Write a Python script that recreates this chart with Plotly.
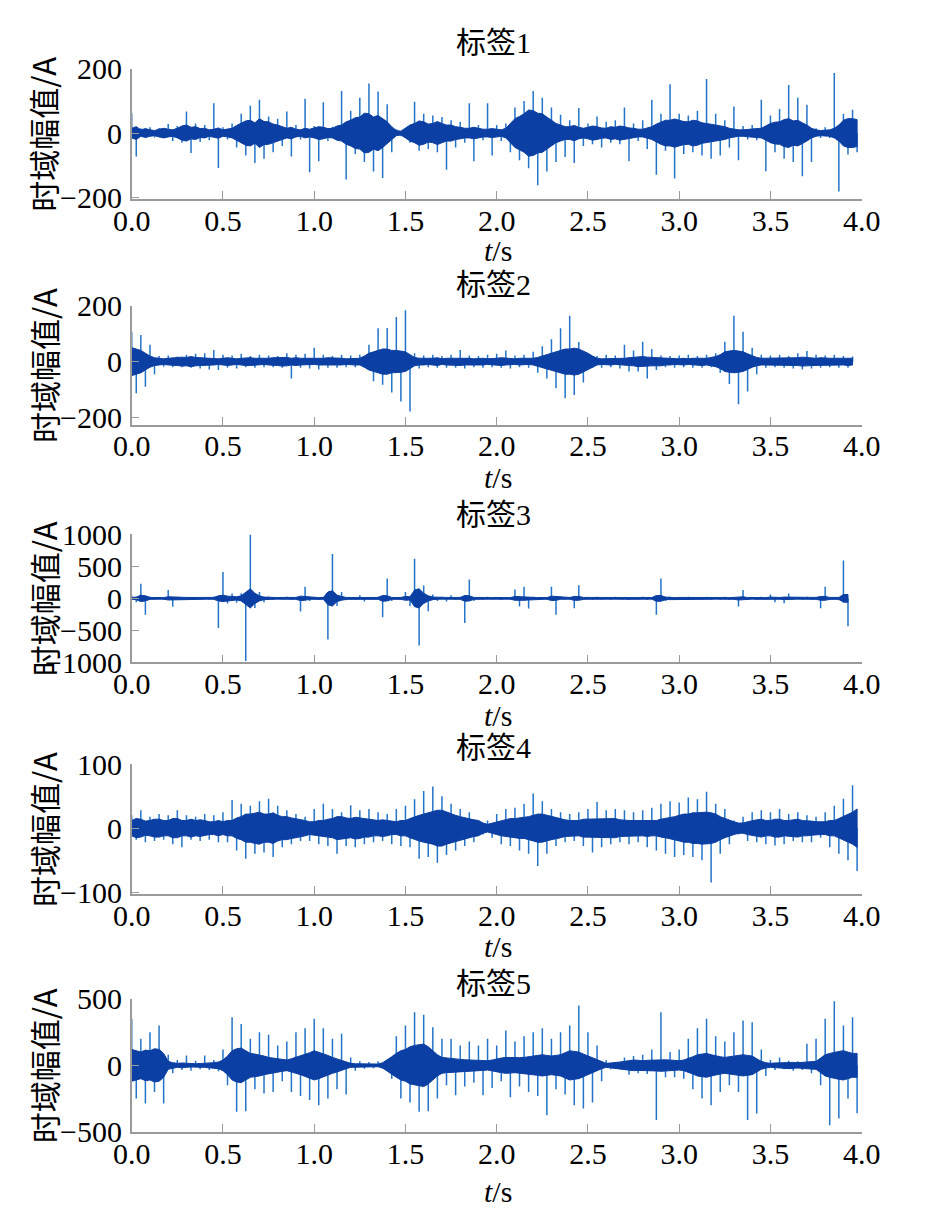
import numpy as np
import plotly.graph_objects as go

W, H = 935, 1218
DT = 0.025        # spacing of the read-off samples (s)

titles = ["标签1", "标签2", "标签3", "标签4", "标签5"]
x_ticks = [0.0, 0.5, 1.0, 1.5, 2.0, 2.5, 3.0, 3.5, 4.0]
y_ticks = [
    [-200, 0, 200],
    [-200, 0, 200],
    [-1000, -500, 0, 500, 1000],
    [-100, 0, 100],
    [-500, 0, 500],
]
y_ranges = [[-205, 200], [-225, 200], [-1000, 1000], [-103, 100], [-500, 500]]

# peak samples, one every 0.025 s (10 per row = 0.25 s)
signal_1 = [
    62, -73, 15, -12, 18, -14, 16, -15, 28, -25,
    22, -30, 67, -62, 30, -28, 25, -22, 93, -109,
    18, -20, 30, -45, 60, -70, 85, -93, 104, -80,
    52, -60, 45, -40, 67, -73, 25, -20, 107, -122,
    22, -88, 96, -25, 20, -22, 131, -145, 70, -65,
    110, -90, 155, -120, 130, -140, 90, -60, 12, -10,
    15, -30, 98, -55, 60, -50, 55, -60, 50, -114,
    40, -45, 35, -30, 93, -88, 25, -22, 93, -70,
    25, -25, 30, -60, 80, -85, 100, -110, 131, -163,
    110, -120, 80, -90, 57, -75, 40, -93, 78, -40,
    30, -35, 52, -45, 35, -30, 40, -35, 80, -88,
    30, -25, 40, -50, 104, -130, 60, -55, 152, -142,
    60, -65, 55, -60, 70, -70, 169, -80, 60, -70,
    40, -45, 83, -85, 22, -20, 25, -22, 104, -119,
    55, -60, 75, -80, 150, -90, 110, -135, 88, -90,
    15, -15, 18, -15, 187, -182, 60, -67, 73, -60,
]
signal_2 = [
    107, -113, 95, -90, 60, -45, 20, -18, 22, -20,
    18, -20, 25, -22, 28, -25, 30, -28, 42, -30,
    25, -22, 22, -25, 28, -20, 20, -22, 25, -20,
    22, -20, 20, -22, 30, -60, 25, -22, 28, -25,
    50, -28, 25, -22, 20, -22, 25, -20, 22, -20,
    25, -22, 60, -70, 119, -83, 120, -110, 160, -143,
    184, -178, 30, -25, 22, -20, 25, -22, 20, -22,
    25, -22, 42, -25, 22, -20, 20, -22, 25, -20,
    28, -22, 40, -25, 22, -20, 25, -22, 35, -40,
    55, -60, 80, -95, 119, -131, 164, -119, 70, -75,
    25, -22, 20, -22, 25, -20, 22, -25, 60, -35,
    40, -35, 71, -60, 45, -30, 22, -20, 20, -22,
    22, -20, 25, -22, 20, -22, 25, -20, 30, -40,
    71, -80, 164, -152, 107, -107, 50, -45, 25, -22,
    22, -20, 25, -22, 20, -25, 30, -28, 38, -25,
    25, -22, 22, -20, 25, -22, 20, -22, 18,
]
signal_3 = [
    40, -60, 230, -258, 25, -20, 20, -25, 130, -130,
    20, -22, 18, -20, 22, -20, 20, -22, 25, -464,
    412, -80, 77, -70, 80, -980, 1000, -150, 100, -60,
    30, -25, 22, -20, 25, -22, 20, -206, 180, -40,
    22, -25, 20, -644, 695, -120, 100, -30, 22, -20,
    50, -50, 20, -22, 25, -294, 309, -40, 22, -20,
    100, -120, 618, -736, 200, -200, 60, -40, 25, -50,
    50, -22, 20, -386, 294, -40, 22, -20, 25, -22,
    20, -25, 22, -20, 139, -129, 180, -160, 25, -22,
    20, -22, 180, -258, 25, -20, 22, -155, 206, -22,
    22, -20, 25, -22, 20, -22, 25, -20, 22, -25,
    20, -22, 25, -20, 22, -258, 309, -40, 25, -22,
    20, -22, 25, -20, 22, -20, 25, -22, 20, -22,
    25, -20, 22, -129, 129, -22, 20, -22, 25, -20,
    60, -60, 22, -77, 77, -22, 20, -22, 25, -20,
    22, -155, 180, -22, 20, -30, 592, -438,
]
signal_4 = [
    20, -18, 28, -22, 18, -20, 22, -18, 20, -25,
    28, -30, 20, -18, 18, -20, 22, -18, 20, -22,
    25, -22, 44, -35, 38, -48, 35, -40, 42, -38,
    46, -45, 35, -30, 28, -25, 22, -20, 18, -20,
    30, -25, 38, -28, 30, -40, 25, -28, 36, -30,
    28, -25, 30, -22, 25, -20, 22, -25, 30, -28,
    35, -30, 45, -48, 58, -45, 65, -54, 50, -42,
    38, -35, 30, -28, 25, -22, 12, -10, 12, -15,
    22, -25, 30, -28, 32, -35, 38, -40, 54, -59,
    42, -40, 30, -28, 25, -22, 22, -20, 25, -28,
    30, -38, 41, -30, 28, -25, 30, -22, 28, -25,
    25, -22, 28, -30, 32, -35, 38, -40, 42, -45,
    40, -42, 48, -45, 45, -50, 57, -85, 38, -40,
    30, -25, 12, -10, 18, -20, 25, -22, 28, -25,
    25, -27, 30, -25, 22, -20, 25, -22, 20, -22,
    18, -15, 25, -30, 35, -40, 46, -50, 67, -67,
]
signal_5 = [
    350, -250, 200, -288, 250, -200, 300, -288, 80, -60,
    40, -35, 75, -40, 35, -30, 75, -35, 40, -45,
    120, -150, 363, -350, 312, -345, 200, -180, 250, -212,
    230, -200, 150, -120, 180, -200, 250, -230, 280, -260,
    350, -300, 280, -250, 200, -180, 237, -220, 60, -40,
    30, -25, 25, -22, 30, -25, 35, -100, 220, -250,
    300, -280, 400, -350, 380, -345, 287, -250, 200, -150,
    200, -225, 150, -160, 180, -130, 150, -225, 200, -170,
    150, -120, 262, -240, 180, -160, 220, -200, 250, -230,
    280, -375, 200, -180, 250, -220, 300, -300, 450, -325,
    250, -280, 150, -120, 40, -30, 25, -30, 60, -70,
    70, -60, 80, -65, 120, -412, 400, -90, 100, -90,
    120, -100, 200, -180, 280, -250, 350, -300, 220, -200,
    180, -150, 250, -200, 337, -412, 325, -362, 120, -80,
    40, -35, 60, -30, 35, -40, 30, -35, 162, -60,
    200, -150, 350, -450, 482, -400, 300, -250, 362, -360,
]

# half width of the dark dense core, same 0.025 s grid
core_1 = [
    15, 20, 10, 14, 10, 8, 12, 15, 12, 10,
    15, 22, 25, 18, 20, 14, 15, 10, 12, 16,
    10, 12, 15, 24, 30, 38, 40, 32, 45, 36,
    35, 28, 25, 20, 15, 18, 12, 10, 15, 12,
    15, 20, 18, 14, 15, 22, 25, 35, 40, 48,
    50, 62, 60, 50, 55, 45, 35, 20, 8, 6,
    15, 25, 30, 38, 35, 28, 30, 36, 30, 25,
    25, 20, 18, 15, 15, 18, 15, 12, 12, 14,
    12, 10, 15, 30, 45, 52, 60, 72, 70, 62,
    60, 50, 40, 30, 25, 20, 20, 24, 18, 15,
    18, 22, 20, 16, 15, 20, 18, 22, 20, 16,
    15, 12, 12, 16, 20, 28, 35, 40, 40, 44,
    40, 36, 35, 40, 38, 32, 30, 28, 25, 22,
    20, 15, 12, 10, 10, 12, 12, 14, 15, 22,
    30, 34, 35, 42, 45, 38, 40, 32, 25, 15,
    10, 8, 8, 10, 15, 25, 40, 45, 45, 42,
]
core_2 = [
    50, 45, 40, 30, 20, 14, 12, 10, 12, 14,
    14, 16, 15, 18, 15, 14, 14, 12, 12, 10,
    12, 14, 12, 10, 12, 14, 14, 12, 12, 10,
    12, 14, 14, 16, 15, 12, 14, 12, 12, 10,
    10, 12, 12, 14, 14, 12, 12, 10, 10, 12,
    12, 20, 30, 35, 40, 45, 45, 40, 40, 38,
    35, 25, 15, 12, 12, 10, 12, 14, 10, 12,
    12, 14, 14, 12, 12, 10, 12, 12, 10, 10,
    12, 14, 12, 10, 10, 12, 12, 10, 12, 15,
    20, 25, 30, 35, 40, 45, 45, 48, 45, 38,
    30, 20, 12, 10, 10, 12, 10, 12, 12, 14,
    15, 18, 18, 16, 15, 14, 15, 12, 12, 10,
    10, 12, 10, 12, 12, 14, 12, 15, 18, 25,
    35, 38, 40, 38, 35, 28, 20, 15, 12, 12,
    12, 14, 12, 12, 12, 14, 14, 16, 15, 14,
    12, 14, 12, 12, 12, 12, 12, 14, 12,
]
core_3 = [
    15, 20, 50, 40, 15, 12, 15, 12, 25, 20,
    15, 12, 15, 14, 12, 15, 14, 12, 15, 40,
    50, 35, 30, 25, 40, 100, 150, 80, 40, 20,
    15, 14, 12, 15, 14, 12, 15, 35, 30, 15,
    14, 12, 15, 100, 120, 50, 30, 15, 14, 12,
    20, 15, 12, 14, 15, 45, 40, 15, 12, 15,
    30, 25, 130, 150, 80, 40, 20, 15, 12, 15,
    14, 12, 15, 45, 40, 15, 12, 14, 15, 12,
    14, 12, 15, 12, 30, 25, 30, 25, 15, 12,
    14, 12, 35, 30, 15, 12, 14, 30, 30, 15,
    14, 12, 15, 14, 12, 15, 14, 12, 15, 12,
    14, 12, 15, 14, 12, 45, 45, 20, 14, 12,
    15, 14, 12, 15, 14, 12, 15, 14, 12, 15,
    14, 12, 15, 25, 25, 14, 12, 15, 14, 12,
    20, 15, 14, 20, 20, 14, 12, 15, 14, 12,
    15, 30, 30, 15, 14, 15, 60, 60,
]
core_4 = [
    12, 15, 14, 11, 12, 14, 14, 12, 12, 15,
    15, 12, 12, 14, 12, 13, 12, 10, 10, 12,
    10, 12, 12, 16, 18, 22, 22, 24, 25, 22,
    22, 24, 20, 18, 18, 16, 15, 14, 12, 10,
    10, 12, 12, 14, 15, 18, 18, 16, 15, 17,
    16, 14, 14, 12, 12, 13, 12, 10, 10, 12,
    12, 15, 18, 20, 22, 24, 25, 28, 28, 25,
    22, 20, 18, 16, 15, 13, 12, 8, 6, 8,
    10, 12, 14, 15, 15, 16, 16, 18, 20, 22,
    22, 20, 18, 16, 15, 13, 12, 12, 12, 14,
    14, 15, 15, 14, 14, 15, 15, 13, 12, 12,
    12, 12, 12, 13, 12, 12, 14, 15, 16, 18,
    20, 22, 22, 24, 24, 25, 25, 24, 22, 18,
    15, 12, 10, 8, 8, 10, 12, 13, 14, 12,
    12, 14, 14, 12, 12, 13, 14, 12, 12, 11,
    10, 10, 10, 12, 12, 15, 18, 22, 25, 30,
]
core_5 = [
    120, 110, 100, 115, 110, 125, 120, 90, 30, 20,
    15, 18, 15, 12, 12, 14, 15, 18, 20, 25,
    40, 70, 110, 125, 130, 110, 90, 85, 80, 70,
    60, 55, 50, 45, 40, 50, 60, 70, 80, 95,
    110, 100, 90, 75, 60, 50, 40, 25, 15, 12,
    12, 12, 12, 10, 10, 20, 40, 65, 90, 110,
    120, 140, 150, 155, 160, 140, 110, 80, 60, 55,
    50, 48, 45, 42, 40, 40, 40, 38, 35, 40,
    50, 55, 60, 58, 55, 58, 60, 65, 70, 75,
    80, 75, 70, 75, 80, 95, 110, 105, 100, 85,
    70, 55, 40, 25, 15, 18, 20, 25, 30, 35,
    40, 38, 35, 38, 40, 42, 45, 42, 40, 38,
    35, 40, 50, 65, 80, 85, 90, 80, 70, 65,
    60, 65, 70, 75, 80, 75, 70, 50, 30, 20,
    15, 18, 20, 22, 25, 22, 20, 22, 25, 28,
    30, 55, 80, 90, 100, 105, 110, 100, 90, 90,
]

signals = [signal_1, signal_2, signal_3, signal_4, signal_5]
cores = [core_1, core_2, core_3, core_4, core_5]

# pixel layout of the reference (top of axis, bottom axis line)
panel_px = [(69, 199), (306, 425), (535, 663), (765, 895), (1000, 1133)]
title_px = [43, 285, 515, 748, 985]
xlabel_px = [251, 478, 716, 948, 1193]
X0, X1 = 131, 863

# observed placement of the plotting area inside the photographed page
PX_L, PX_W = 26, 899.5
PX_T, PX_H = 25, 1186.3

SERIF = "Liberation Serif, 'Noto Sans CJK SC', serif"
CJK = "'Noto Sans CJK SC', sans-serif"
AXIS_GREY = "#9a9a9a"
SPIKE = "#2374c9"
CORE = "#0b3fa3"


def fx(px):
    return (px - PX_L) / PX_W


def fy(px):
    return 1 - (px - PX_T) / PX_H


fig = go.Figure()
layout = {}
annotations = []
for i, (sig, core) in enumerate(zip(signals, cores)):
    n = i + 1
    sig = np.array(sig, dtype=float)
    core = np.array(core, dtype=float)
    t = np.arange(len(sig)) * DT
    tc = np.arange(len(core)) * DT
    xa, ya = ("x", "y") if n == 1 else (f"x{n}", f"y{n}")

    # each peak drawn as a vertical stroke from zero
    sx = np.repeat(t, 3)
    sx[2::3] = np.nan
    sy = np.column_stack([np.zeros_like(sig), sig, np.full_like(sig, np.nan)]).ravel()
    fig.add_trace(go.Scatter(
        x=sx, y=sy, mode="lines", xaxis=xa, yaxis=ya, connectgaps=False,
        line=dict(color=SPIKE, width=1.5), hoverinfo="skip", showlegend=False,
    ))
    fig.add_trace(go.Scatter(
        x=np.concatenate([tc, tc[::-1]]), y=np.concatenate([core, -core[::-1]]),
        fill="toself", mode="lines", xaxis=xa, yaxis=ya,
        line=dict(color=CORE, width=1), fillcolor=CORE,
        hoverinfo="skip", showlegend=False,
    ))

    top, bot = panel_px[i]
    axis_style = dict(
        showline=True, linecolor=AXIS_GREY, linewidth=1.5,
        ticks="inside", ticklen=8, tickcolor=AXIS_GREY, tickwidth=1.2,
        showgrid=False, zeroline=False,
        tickfont=dict(family=SERIF, size=30, color="black"),
    )
    layout[f"xaxis{n}"] = dict(
        axis_style, domain=[fx(X0), fx(X1)], range=[0, 4], anchor=ya,
        tickvals=x_ticks, tickformat=".1f", ticklabelstandoff=-6,
    )
    layout[f"yaxis{n}"] = dict(
        axis_style, domain=[fy(bot), fy(top)], range=y_ranges[i], anchor=xa,
        tickvals=y_ticks[i], ticklabelstandoff=2,
    )

    annotations.append(dict(
        text=titles[i], x=fx(494), y=fy(title_px[i]), xref="paper", yref="paper",
        xanchor="center", yanchor="middle", showarrow=False,
        font=dict(family=SERIF, size=30, color="black"),
    ))
    annotations.append(dict(
        text="<i>t</i>/s", x=fx(498), y=fy(xlabel_px[i]), xref="paper", yref="paper",
        xanchor="center", yanchor="middle", showarrow=False,
        font=dict(family=SERIF, size=30, color="black"),
    ))
    annotations.append(dict(
        text="时域幅值/A", x=fx(42), y=fy((top + bot) / 2), xref="paper", yref="paper",
        xanchor="center", yanchor="middle", showarrow=False, textangle=-90,
        font=dict(family=CJK, size=31, color="black"),
    ))

fig.update_layout(
    width=W, height=H, autosize=False,
    margin=dict(l=0, r=0, t=0, b=0),
    paper_bgcolor="white", plot_bgcolor="white",
    annotations=annotations,
    **layout,
)
fig.write_html("out.html")
